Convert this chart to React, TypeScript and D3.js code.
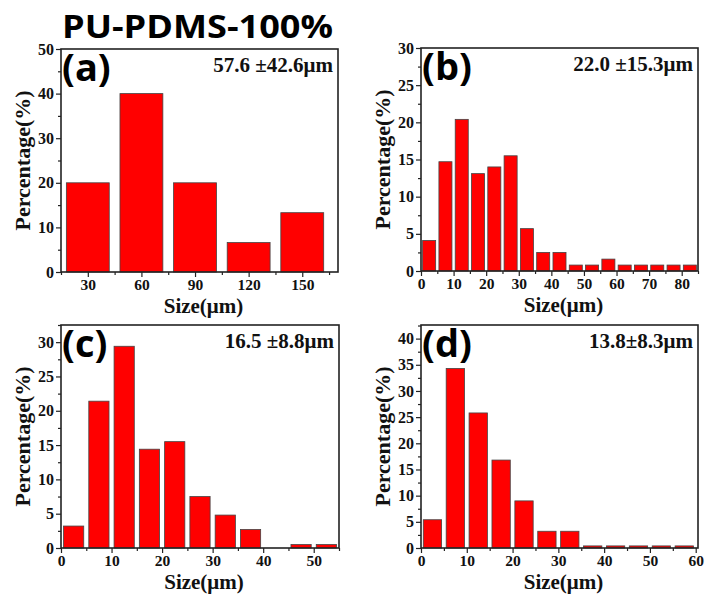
import * as d3 from "d3";
import { useEffect, useRef } from "react";

// bin centres (µm) and percentages
const sizeA = [30, 60, 90, 120, 150];
const pctA = [20, 40, 20, 6.6, 13.3];

const sizeB = [2.5, 7.5, 12.5, 17.5, 22.5, 27.5, 32.5, 37.5, 42.5, 47.5, 52.5, 57.5, 62.5, 67.5, 72.5, 77.5, 82.5];
const pctB = [4.1, 14.7, 20.4, 13.1, 14.0, 15.5, 5.7, 2.5, 2.5, 0.8, 0.8, 1.6, 0.8, 0.8, 0.8, 0.8, 0.8];

const sizeC = [2.5, 7.5, 12.5, 17.5, 22.5, 27.5, 32.5, 37.5, 42.5, 47.5, 52.5];
const pctC = [3.2, 21.4, 29.4, 14.4, 15.5, 7.5, 4.8, 2.7, 0, 0.5, 0.5];

const sizeD = [2.5, 7.5, 12.5, 17.5, 22.5, 27.5, 32.5, 37.5, 42.5, 47.5, 52.5, 57.5];
const pctD = [5.4, 34.3, 25.8, 16.8, 9.0, 3.2, 3.2, 0.4, 0.4, 0.4, 0.4, 0.4];

// tick labels
const xTicksA = [30, 60, 90, 120, 150];
const yTicksA = [0, 10, 20, 30, 40, 50];
const xTicksB = [0, 10, 20, 30, 40, 50, 60, 70, 80];
const yTicksB = [0, 5, 10, 15, 20, 25, 30];
const xTicksC = [0, 10, 20, 30, 40, 50];
const yTicksC = [0, 5, 10, 15, 20, 25, 30];
const xTicksD = [0, 10, 20, 30, 40, 50, 60];
const yTicksD = [0, 5, 10, 15, 20, 25, 30, 35, 40];

const labels = ["(a)", "(b)", "(c)", "(d)"];
const stats = ["57.6 ±42.6μm", "22.0 ±15.3μm", "16.5 ±8.8μm", "13.8±8.3μm"];

const panels = [
  { size: sizeA, pct: pctA, xTicks: xTicksA, yTicks: yTicksA, xDom: [15, 170], yDom: [0, 50], bin: 30, xMinor: 15, yMinor: 5,
    box: { l: 61, r: 338, t: 49, b: 272 } },
  { size: sizeB, pct: pctB, xTicks: xTicksB, yTicks: yTicksB, xDom: [0, 85], yDom: [0, 30], bin: 5, xMinor: 5, yMinor: 2.5,
    box: { l: 421, r: 698, t: 48, b: 271 } },
  { size: sizeC, pct: pctC, xTicks: xTicksC, yTicks: yTicksC, xDom: [0, 55], yDom: [0, 32.5], bin: 5, xMinor: 5, yMinor: 2.5,
    box: { l: 61, r: 339, t: 325, b: 548 } },
  { size: sizeD, pct: pctD, xTicks: xTicksD, yTicks: yTicksD, xDom: [0, 60.5], yDom: [0, 42.6], bin: 5, xMinor: 5, yMinor: 2.5,
    box: { l: 421, r: 698, t: 325, b: 548 } },
];

const serif = "'Liberation Serif', 'Times New Roman', serif";
const sans = "'Open Sans', 'Noto Sans', sans-serif";

export default function App() {
  const ref = useRef<SVGSVGElement>(null);

  useEffect(() => {
    const svg = d3.select(ref.current);
    svg.selectAll("*").remove();

    svg.append("text")
      .attr("x", 62)
      .attr("y", 38)
      .attr("font-family", sans)
      .attr("font-weight", 700)
      .attr("font-size", 32)
      .attr("textLength", 271)
      .attr("lengthAdjust", "spacingAndGlyphs")
      .text("PU-PDMS-100%");

    panels.forEach((p, i) => {
      const { l, r, t, b } = p.box;
      const x = d3.scaleLinear().domain(p.xDom).range([l, r]);
      const y = d3.scaleLinear().domain(p.yDom).range([b, t]);
      const g = svg.append("g");

      // bars
      const bw = x(p.xDom[0] + p.bin * 0.8) - x(p.xDom[0]);
      g.selectAll("rect.bar")
        .data(p.size.map((s, k) => ({ s, v: p.pct[k] })).filter(d => d.v > 0))
        .join("rect")
        .attr("class", "bar")
        .attr("x", d => x(d.s) - bw / 2)
        .attr("width", bw)
        .attr("y", d => y(d.v))
        .attr("height", d => y(0) - y(d.v))
        .attr("fill", "#ff0000")
        .attr("stroke", "#444")
        .attr("stroke-width", 0.8);

      // minor ticks
      const xMinor = d3.range(p.xDom[0], p.xDom[1] + 0.01, p.xMinor).filter(v => !p.xTicks.includes(v));
      const yMinor = d3.range(p.yDom[0], p.yDom[1] + 0.01, p.yMinor).filter(v => !p.yTicks.includes(v));

      g.append("g")
        .attr("transform", `translate(0,${b})`)
        .call(d3.axisBottom(x).tickValues(xMinor).tickSize(3).tickFormat(() => ""))
        .call(a => a.select(".domain").remove());
      g.append("g")
        .attr("transform", `translate(${l},0)`)
        .call(d3.axisLeft(y).tickValues(yMinor).tickSize(3).tickFormat(() => ""))
        .call(a => a.select(".domain").remove());

      // major ticks
      const xa = g.append("g")
        .attr("transform", `translate(0,${b})`)
        .call(d3.axisBottom(x).tickValues(p.xTicks).tickSize(5).tickPadding(2).tickFormat(d3.format("d")));
      xa.select(".domain").remove();
      xa.selectAll("text")
        .attr("font-family", serif)
        .attr("font-weight", 700)
        .attr("font-size", 15.5)
        .attr("fill", "#111");

      const ya = g.append("g")
        .attr("transform", `translate(${l},0)`)
        .call(d3.axisLeft(y).tickValues(p.yTicks).tickSize(5).tickPadding(2).tickFormat(d3.format("d")));
      ya.select(".domain").remove();
      ya.selectAll("text")
        .attr("font-family", serif)
        .attr("font-weight", 700)
        .attr("font-size", 16)
        .attr("fill", "#111");

      g.selectAll(".tick line").attr("stroke", "#222").attr("stroke-width", 1.2);

      // frame
      g.append("rect")
        .attr("x", l)
        .attr("y", t)
        .attr("width", r - l)
        .attr("height", b - t)
        .attr("fill", "none")
        .attr("stroke", "#222")
        .attr("stroke-width", 1.6);

      // axis titles
      g.append("text")
        .attr("transform", `translate(${l - 31},${(t + b) / 2}) rotate(-90)`)
        .attr("text-anchor", "middle")
        .attr("font-family", serif)
        .attr("font-weight", 700)
        .attr("font-size", 22)
        .attr("fill", "#111")
        .text("Percentage(%)");

      g.append("text")
        .attr("x", (l + r) / 2 + 4)
        .attr("y", b + 41)
        .attr("text-anchor", "middle")
        .attr("font-family", serif)
        .attr("font-weight", 700)
        .attr("font-size", 21)
        .attr("fill", "#111")
        .text("Size(μm)");

      // panel letter and mean ± sd
      g.append("text")
        .attr("x", l + 1)
        .attr("y", t + 32)
        .attr("font-family", sans)
        .attr("font-weight", 700)
        .attr("font-size", 38)
        .attr("fill", "#000")
        .text(labels[i]);

      g.append("text")
        .attr("x", r - 5)
        .attr("y", t + 23)
        .attr("text-anchor", "end")
        .attr("font-family", serif)
        .attr("font-weight", 700)
        .attr("font-size", 21)
        .attr("fill", "#111")
        .text(stats[i]);
    });
  }, []);

  return (
    <svg
      ref={ref}
      width={709}
      height={597}
      style={{ position: "absolute", left: 0, top: 0, background: "#fff" }}
    />
  );
}
